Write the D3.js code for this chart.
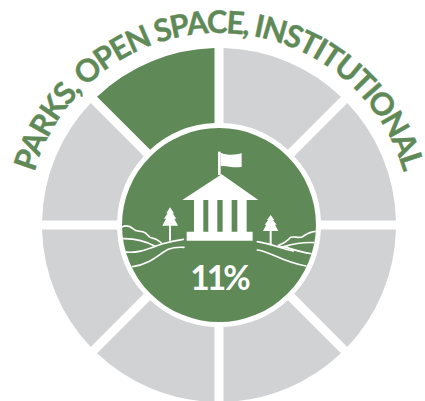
<!DOCTYPE html>
<html><head><meta charset="utf-8">
<script src="https://cdn.jsdelivr.net/npm/d3@7"></script>
<style>html,body{margin:0;padding:0;background:#fff}svg{display:block}</style>
</head><body><svg id="c" width="425" height="401"></svg>
<script>
const categories = ["Parks, open space, institutional","Other 1","Other 2","Other 3","Other 4","Other 5","Other 6","Other 7"];
const segmentWeights = [1,1,1,1,1,1,1,1];
const highlighted = ["Parks, open space, institutional"];
const title = "PARKS, OPEN SPACE, INSTITUTIONAL";
const shareLabel = "11%";
const green = "#5f8a58", grey = "#d1d2d4";
const W = 425, H = 401, cx = 219, cy = 225;
const svg = d3.select("#c").attr("viewBox",[0,0,W,H]);
// order: clockwise from 12 o'clock, highlighted slice last
const order = categories.slice(1).concat(categories[0]);
const pie = d3.pie().sort(null).value((d,i)=>segmentWeights[i]);
const arc = d3.arc().innerRadius(102).outerRadius(177).padRadius(140).padAngle(9/140);
const g = svg.append("g").attr("transform",`translate(${cx},${cy})`);
g.selectAll("path.seg").data(pie(order)).join("path").attr("class","seg")
  .attr("d",arc).attr("fill",d=>highlighted.includes(d.data)?green:grey);
g.append("circle").attr("r",97).attr("fill",green);

// curved title
const tr = 192;
const defs = svg.append("defs");
const tp = d3.path(); tp.arc(cx,cy,tr,-Math.PI,0);
defs.append("path").attr("id","tp").attr("d",tp.toString());
defs.append("clipPath").attr("id","cc").append("circle").attr("cx",cx).attr("cy",cy).attr("r",97);
svg.append("text").attr("font-family","Lato").attr("font-weight",700).attr("font-size",31)
  .attr("fill",green).attr("stroke",green).attr("stroke-width",0.4)
  .append("textPath").attr("href","#tp").attr("startOffset","50%").attr("text-anchor","middle")
  .attr("textLength",496).attr("lengthAdjust","spacing").text(title);

// icon, drawn in a 3x local space
const icon = svg.append("g").attr("transform","translate(100,130) scale(0.3333)");
const solid = [
 "M354 65H362V135H354Z",
 "M362 68C380 76 405 76 425 70V110C405 116 382 106 362 108Z",
 "M365 133L475 210H247Z",
 "M282 210H310V306H282ZM325 210H352V306H325ZM368 210H395V306H368ZM412 210H440V306H412Z",
 "M260 305H458V332H260Z",
 "M210 232L222 250H218L229 266H223L234 287H187L198 266H192L203 250H199Z",
 "M207 285H213V332H207Z",
 "M512 255L523 270H519L530 284H525L535 303H489L499 284H494L505 270H501Z",
 "M509 300H515V346H509Z"
];
icon.selectAll("path.s").data(solid).join("path").attr("class","s").attr("d",d=>d).attr("fill","#fff");
const lines = [
 "M66 291C80 284 90 288 100 297C110 308 122 300 135 308C146 314 145 325 160 325C170 326 175 332 183 338",
 "M66 326C100 325 135 332 165 349",
 "M66 364C110 374 150 355 185 342C205 336 228 331 250 328",
 "M98 410C150 404 180 370 205 358C220 352 235 351 252 352",
 "M650 304C630 304 620 312 608 320C595 326 585 318 572 322C565 330 558 338 536 346C540 352 545 352 552 352",
 "M645 338C610 336 585 340 552 350C575 358 610 368 640 372",
 "M472 335C510 340 540 355 580 363",
 "M472 360C510 364 545 396 618 408"
];
const lg = svg.append("g").attr("clip-path","url(#cc)").append("g").attr("transform","translate(100,130) scale(0.3333)");
lg.selectAll("path").data(lines).join("path").attr("d",d=>d).attr("fill","none").attr("stroke","#fff").attr("stroke-width",5).attr("stroke-linecap","round");

svg.append("text").attr("x",cx).attr("y",289.5).attr("text-anchor","middle")
  .attr("font-family","Lato").attr("font-weight",700).attr("font-size",33.5).attr("letter-spacing",-3)
  .attr("fill","#fff").text(shareLabel);
</script></body></html>
